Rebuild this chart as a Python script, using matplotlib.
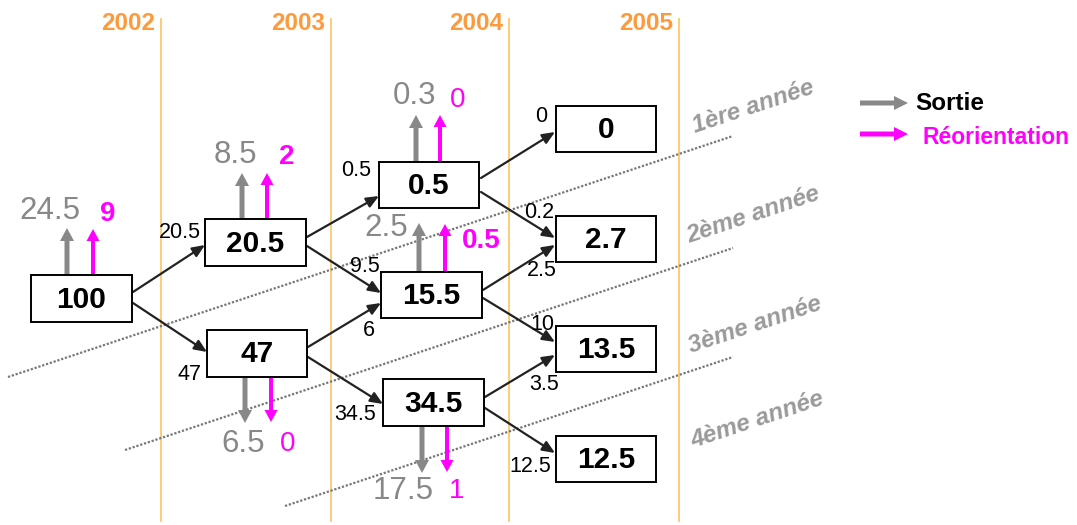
import matplotlib
matplotlib.use("Agg")
import matplotlib.pyplot as plt
from matplotlib.patches import Rectangle

# ---------------- data ----------------
years = ['2002', '2003', '2004', '2005']
box_values = ['100', '20.5', '47', '0.5', '15.5', '34.5', '0', '2.7', '13.5', '12.5']
edge_src = [0, 0, 1, 1, 2, 2, 3, 3, 4, 4, 5, 5]
edge_dst = [1, 2, 3, 4, 4, 5, 6, 7, 7, 8, 8, 9]
edge_values = ['20.5', '47', '0.5', '9.5', '6', '34.5', '0', '0.2', '2.5', '10', '3.5', '12.5']
sortie_values = ['24.5', '8.5', '6.5', '0.3', '2.5', '17.5']
reorient_values = ['9', '2', '0', '0', '0.5', '1']
level_labels = ['1ère année', '2ème année', '3ème année', '4ème année']
legend_labels = ['Sortie', 'Réorientation']

# ---------------- layout (pixel coordinates) ----------------
W, H = 1077, 525
year_line_x = [161, 331, 509, 679]
boxes = [(31, 132, 275, 322), (205, 306, 219, 266), (207, 307, 330, 377),
         (379, 479, 162, 208), (381, 482, 272, 318), (383, 484, 379, 426),
         (556, 656, 106, 152), (556, 656, 216, 262), (556, 656, 326, 372),
         (556, 656, 436, 482)]
edge_xy = [((133, 292), (205, 245)), ((133, 303), (207, 352)),
           ((307, 237), (379, 196)), ((307, 246), (381, 293)),
           ((308, 347), (381, 303)), ((308, 357), (383, 404)),
           ((481, 178), (555, 132)), ((481, 192), (555, 238)),
           ((483, 290), (555, 245)), ((483, 298), (555, 342)),
           ((485, 397), (555, 355)), ((485, 408), (555, 453))]
edge_label_xy = [(180, 233), (190, 374), (356, 171), (365, 266), (369, 330),
                 (355, 415), (541, 116), (539, 212), (542, 271), (542, 325),
                 (544, 385), (530, 467)]
# side arrows: (gray x, magenta x, y start, gray tip, magenta tip)
side_arrows = [(67, 93, 275, 228, 229), (242, 267, 219, 173, 173),
               (245, 271, 377, 423, 422), (416, 440, 162, 115, 115),
               (419, 445, 272, 223, 224), (422, 447, 426, 473, 472)]
sortie_xy = [(50, 211), (235, 155), (243, 444), (415, 96), (386, 228), (403, 491)]
reorient_xy = [(108, 214), (287, 157), (288, 444), (458, 100), (481, 241), (457, 491)]
reorient_weight = ['bold', 'bold', 'normal', 'normal', 'bold', 'normal']
dotted_lines = [((8, 377), (733, 136)), ((125, 450), (733, 248)), ((285, 506), (733, 357))]
level_xy = [(753, 107), (753, 215), (755, 325), (757, 420)]

GRAY = '#888888'
MAG = '#ff00ff'
ORANGE_LINE = '#fbc870'
ORANGE_TXT = '#ff9a3c'
FONT = 'Liberation Sans'

fig = plt.figure(figsize=(W / 100, H / 100), dpi=100)
ax = fig.add_axes([0, 0, 1, 1])
ax.set_xlim(0, W)
ax.set_ylim(H, 0)
ax.axis('off')

# year lines and labels
for x, yr in zip(year_line_x, years):
    ax.plot([x, x], [19, 521], color=ORANGE_LINE, lw=1.3, zorder=1)
    ax.text(x - 6, 24, yr, ha='right', va='center', fontsize=17.5, fontweight='bold',
            color=ORANGE_TXT, family=FONT)

# dotted level lines
for (p0, p1) in dotted_lines:
    ax.plot([p0[0], p1[0]], [p0[1], p1[1]], color='#777777', lw=1.6,
            linestyle=(0, (1, 0.8)), zorder=1)
for (x, y), lab in zip(level_xy, level_labels):
    ax.text(x, y, lab, ha='center', va='center', rotation=18.4, fontsize=17.5,
            fontweight='bold', fontstyle='italic', color='#9a9a9a', family=FONT)

# flow edges
for (p0, p1) in edge_xy:
    ax.annotate('', xy=p1, xytext=p0,
                arrowprops=dict(arrowstyle='-|>,head_length=0.75,head_width=0.32',
                                color='#222222', lw=1.6, shrinkA=0, shrinkB=0),
                zorder=2)
for (x, y), lab in zip(edge_label_xy, edge_values):
    ax.text(x, y, lab, ha='center', va='center', fontsize=15.5, color='black',
            family=FONT, zorder=4)

# boxes
for (x0, x1, y0, y1), val in zip(boxes, box_values):
    ax.add_patch(Rectangle((x0, y0), x1 - x0, y1 - y0, facecolor='white',
                           edgecolor='black', lw=1.4, zorder=3))
    ax.text((x0 + x1) / 2, (y0 + y1) / 2 + 1, val, ha='center', va='center',
            fontsize=21.5, fontweight='bold', color='black', family=FONT, zorder=4)

# sortie / réorientation arrows
for (gx, mx, ys, gt, mt) in side_arrows:
    ax.arrow(gx, ys, 0, gt - ys, width=5, head_width=14, head_length=13,
             length_includes_head=True, color=GRAY, lw=0, zorder=2)
    ax.arrow(mx, ys, 0, mt - ys, width=4, head_width=13, head_length=12,
             length_includes_head=True, color=MAG, lw=0, zorder=2)
for (x, y), lab in zip(sortie_xy, sortie_values):
    ax.text(x, y, lab, ha='center', va='center', fontsize=22.5, color=GRAY,
            family=FONT, zorder=4)
for (x, y), lab, wt in zip(reorient_xy, reorient_values, reorient_weight):
    ax.text(x, y, lab, ha='center', va='center', fontsize=20, color=MAG,
            fontweight=wt, family=FONT, zorder=4)

# legend
ax.arrow(860, 103, 48, 0, width=5, head_width=14, head_length=14,
         length_includes_head=True, color=GRAY, lw=0)
ax.arrow(860, 134, 48, 0, width=5, head_width=14, head_length=14,
         length_includes_head=True, color=MAG, lw=0)
ax.text(915, 103, legend_labels[0], ha='left', va='center', fontsize=17.5,
        fontweight='bold', color='black', family=FONT)
ax.text(922, 138, legend_labels[1], ha='left', va='center', fontsize=16.5,
        fontweight='bold', color=MAG, family=FONT)

fig.savefig('out.png', dpi=100, facecolor='white')
